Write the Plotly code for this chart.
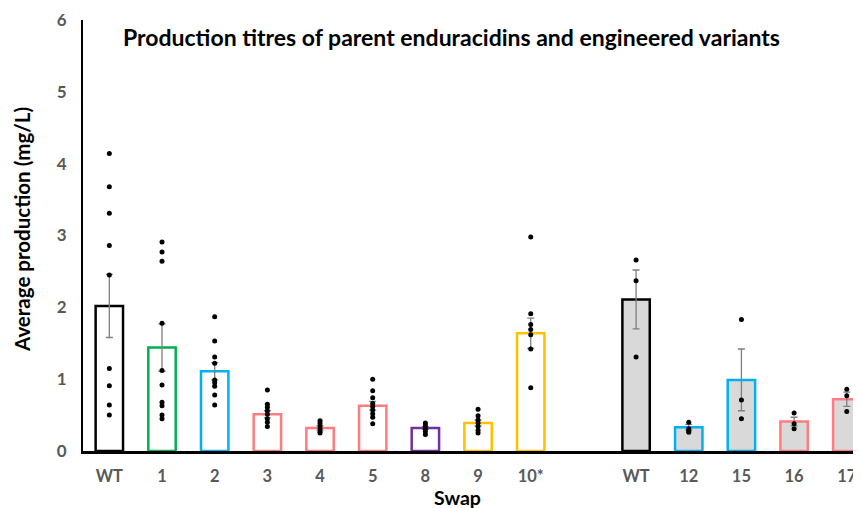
import plotly.graph_objects as go

# ---- data ----
categories = ["WT", "1", "2", "3", "4", "5", "8", "9", "10*", "WT", "12", "15", "16", "17"]
group = [1, 1, 1, 1, 1, 1, 1, 1, 1, 2, 2, 2, 2, 2]
means = [2.02, 1.44, 1.11, 0.51, 0.32, 0.63, 0.32, 0.39, 1.64, 2.11, 0.33, 0.99, 0.41, 0.72]
errors = [0.44, 0.33, 0.12, 0.05, 0.03, 0.06, 0.02, 0.04, 0.21, 0.41, 0.04, 0.43, 0.06, 0.10]
replicates = [
    [4.14, 3.68, 3.31, 2.86, 2.45, 1.15, 0.91, 0.64, 0.50],
    [2.91, 2.77, 2.64, 1.78, 1.12, 0.92, 0.68, 0.63, 0.50, 0.45],
    [1.87, 1.53, 1.31, 1.22, 0.99, 0.95, 0.90, 0.78, 0.64],
    [0.85, 0.65, 0.61, 0.56, 0.51, 0.45, 0.40, 0.34],
    [0.42, 0.39, 0.35, 0.31, 0.27, 0.25],
    [1.00, 0.84, 0.74, 0.66, 0.62, 0.57, 0.52, 0.47, 0.38],
    [0.39, 0.35, 0.31, 0.27, 0.23],
    [0.58, 0.49, 0.43, 0.39, 0.34, 0.29, 0.25],
    [2.98, 1.91, 1.76, 1.69, 1.62, 1.42, 0.88],
    [2.66, 2.37, 1.31],
    [0.40, 0.31, 0.28, 0.26],
    [1.83, 0.71, 0.45],
    [0.53, 0.38, 0.31],
    [0.86, 0.77, 0.55],
]
outline_colors = ["#000000", "#00B050", "#00B0F0", "#FF7C80", "#FF7C80", "#FF7C80", "#7030A0",
                  "#FFC000", "#FFC000", "#000000", "#00B0F0", "#00B0F0", "#FF7C80", "#FF7C80"]
fill_colors = ["#FFFFFF"] * 9 + ["#D9D9D9"] * 5

title_text = "Production titres of parent enduracidins and engineered variants"
y_title = "Average production (mg/L)"
x_title = "Swap"
y_ticks = [0, 1, 2, 3, 4, 5, 6]

# ---- positions (one empty slot between groups) ----
xpos = [i + (g - 1) for i, g in enumerate(group)]

fig = go.Figure()
fig.add_trace(go.Bar(
    x=xpos, y=means, width=0.52,
    marker=dict(color=fill_colors, line=dict(color=outline_colors, width=2.5)),
    error_y=dict(type="data", array=errors, color="#7F7F7F", thickness=1.3, width=3.5),
    showlegend=False,
))

dx, dy = [], []
for x, reps in zip(xpos, replicates):
    for v in reps:
        dx.append(x)
        dy.append(v)
fig.add_trace(go.Scatter(
    x=dx, y=dy, mode="markers",
    marker=dict(color="#000000", size=5),
    showlegend=False,
))

OFF = 8  # page body margin
W, H = 861 - OFF, 508 - OFF
L, T = 83 - OFF, 20 - OFF
R = 0
B = H - (451 - OFF)
pw, ph = W - L - R, H - T - B
last = max(xpos)
fig.update_layout(
    width=W, height=H,
    margin=dict(l=L, r=R, t=T, b=B, autoexpand=False),
    plot_bgcolor="white", paper_bgcolor="white",
    font=dict(family="Lato", color="#595959"),
    xaxis=dict(
        range=[-0.5, last + 0.27],
        tickmode="array", tickvals=xpos,
        ticktext=["<b>%s</b>" % c for c in categories],
        tickfont=dict(size=16.5, color="#595959"),
        showline=True, linecolor="#000000", linewidth=2.5,
        ticks="", showgrid=False, zeroline=False,
        ticklabelstandoff=8, automargin=False, ticklabeloverflow="allow",
    ),
    yaxis=dict(
        range=[0, 6],
        tickmode="array", tickvals=y_ticks,
        ticktext=["<b>%d</b>" % t for t in y_ticks],
        tickfont=dict(size=17, color="#595959"),
        showline=True, linecolor="#000000", linewidth=2,
        ticks="", showgrid=False, zeroline=False,
        ticklabelstandoff=11, automargin=False,
    ),
    bargap=0.48,
)

def px_x(p):
    return (p - OFF - L) / pw

def px_y(p):
    return (H - B - (p - OFF)) / ph

fig.add_annotation(text="<b>%s</b>" % title_text, xref="paper", yref="paper",
                   x=px_x(121), y=px_y(37), xanchor="left", yanchor="middle",
                   showarrow=False, font=dict(size=23, color="#000000", family="Lato"))
fig.add_annotation(text="<b>%s</b>" % y_title, xref="paper", yref="paper",
                   x=px_x(22), y=px_y(230), xanchor="center", yanchor="middle", textangle=-90,
                   showarrow=False, font=dict(size=20.5, color="#000000", family="Lato"))
fig.add_annotation(text="<b>%s</b>" % x_title, xref="paper", yref="paper",
                   x=px_x(457), y=px_y(497), xanchor="center", yanchor="middle",
                   showarrow=False, font=dict(size=19.5, color="#000000", family="Lato"))

fig.write_html("out.html")
